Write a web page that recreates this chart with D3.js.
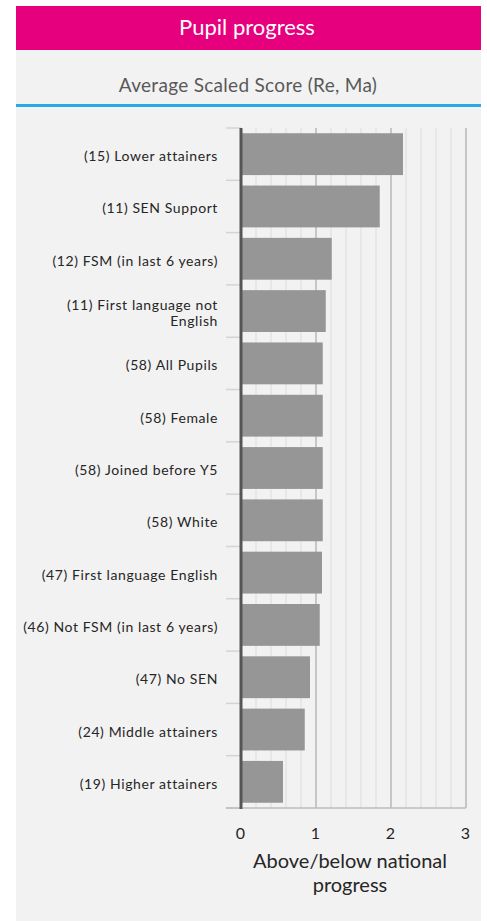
<!DOCTYPE html>
<html>
<head>
<meta charset="utf-8">
<script src="https://cdn.jsdelivr.net/npm/d3@7"></script>
<style>
  body { margin: 0; background: #fff; font-family: Lato, "Open Sans", sans-serif; }
</style>
</head>
<body>
<script>
const categories = [
  "(15) Lower attainers",
  "(11) SEN Support",
  "(12) FSM (in last 6 years)",
  "(11) First language not|English",
  "(58) All Pupils",
  "(58) Female",
  "(58) Joined before Y5",
  "(58) White",
  "(47) First language English",
  "(46) Not FSM (in last 6 years)",
  "(47) No SEN",
  "(24) Middle attainers",
  "(19) Higher attainers"
];
const values = [2.16, 1.85, 1.21, 1.13, 1.09, 1.09, 1.09, 1.09, 1.08, 1.05, 0.92, 0.85, 0.56];
const xTicks = [0, 1, 2, 3];
const minorTicks = d3.range(0.2, 3, 0.2).filter(v => Math.abs(v - Math.round(v)) > 0.01);

const width = 487, height = 921;
const svg = d3.select("body").append("svg")
  .attr("width", width).attr("height", height);

// panel
svg.append("rect").attr("x", 16).attr("y", 50).attr("width", 465).attr("height", 871).attr("fill", "#f2f2f2");
svg.append("rect").attr("x", 16).attr("y", 6).attr("width", 465).attr("height", 44).attr("fill", "#e6007e");
svg.append("text").attr("x", 247).attr("y", 35).attr("text-anchor", "middle")
  .attr("fill", "#fff").style("font-size", "22px").text("Pupil progress");
svg.append("text").attr("x", 248).attr("y", 92).attr("text-anchor", "middle")
  .attr("fill", "#595959").style("font-size", "19px").style("letter-spacing", "0.3px")
  .text("Average Scaled Score (Re, Ma)");
svg.append("rect").attr("x", 16).attr("y", 104).attr("width", 465).attr("height", 3).attr("fill", "#29abe2");

const plotTop = 128, plotBottom = 808;
const x = d3.scaleLinear().domain([0, 3]).range([241, 466]);
const y = d3.scaleBand().domain(categories).range([plotTop, plotBottom]).paddingInner(0.2).paddingOuter(0.1);
const step = y.step();

// gridlines
svg.append("g").selectAll("line").data(minorTicks).enter().append("line")
  .attr("x1", d => x(d)).attr("x2", d => x(d)).attr("y1", plotTop).attr("y2", plotBottom)
  .attr("stroke", "#e3e3e3").attr("stroke-width", 1.5);
svg.append("g").selectAll("line").data(xTicks.slice(1)).enter().append("line")
  .attr("x1", d => x(d)).attr("x2", d => x(d)).attr("y1", plotTop).attr("y2", plotBottom)
  .attr("stroke", "#c6c6c6").attr("stroke-width", 2);

// category ticks
svg.append("g").selectAll("line").data(d3.range(categories.length + 1)).enter().append("line")
  .attr("x1", 226).attr("x2", 241)
  .attr("y1", i => plotTop + i * step).attr("y2", i => plotTop + i * step)
  .attr("stroke", "#d4d4d4").attr("stroke-width", 1.5);
svg.append("line").attr("x1", 226).attr("x2", x(3)).attr("y1", plotBottom).attr("y2", plotBottom)
  .attr("stroke", "#bdbdbd").attr("stroke-width", 1.5);

// bars
svg.append("g").selectAll("rect").data(categories).enter().append("rect")
  .attr("x", x(0)).attr("y", d => y(d))
  .attr("width", (d, i) => x(values[i]) - x(0))
  .attr("height", y.bandwidth())
  .attr("fill", "#969696");

// zero axis
svg.append("line").attr("x1", x(0)).attr("x2", x(0)).attr("y1", plotTop).attr("y2", plotBottom + 1)
  .attr("stroke", "#555").attr("stroke-width", 3);

// category labels
const labels = svg.append("g").selectAll("text").data(categories).enter().append("text")
  .attr("text-anchor", "end").attr("fill", "#262626")
  .style("font-size", "14px").style("letter-spacing", "0.6px");
labels.each(function (d) {
  const parts = d.split("|");
  const cy = y(d) + y.bandwidth() / 2;
  const t = d3.select(this);
  parts.forEach((p, j) => {
    t.append("tspan").attr("x", 218)
      .attr("y", cy + 7 + (j - (parts.length - 1) / 2) * 16)
      .text(p);
  });
});

// x tick labels
svg.append("g").selectAll("text").data(xTicks).enter().append("text")
  .attr("x", d => x(d) - 0.5).attr("y", 839).attr("text-anchor", "middle")
  .attr("fill", "#262626").style("font-size", "16px").text(d => d);

// axis title
const title = svg.append("text").attr("text-anchor", "middle").attr("fill", "#262626").style("font-size", "20px");
title.append("tspan").attr("x", 350).attr("y", 868).text("Above/below national");
title.append("tspan").attr("x", 350).attr("y", 892).text("progress");
</script>
</body>
</html>
